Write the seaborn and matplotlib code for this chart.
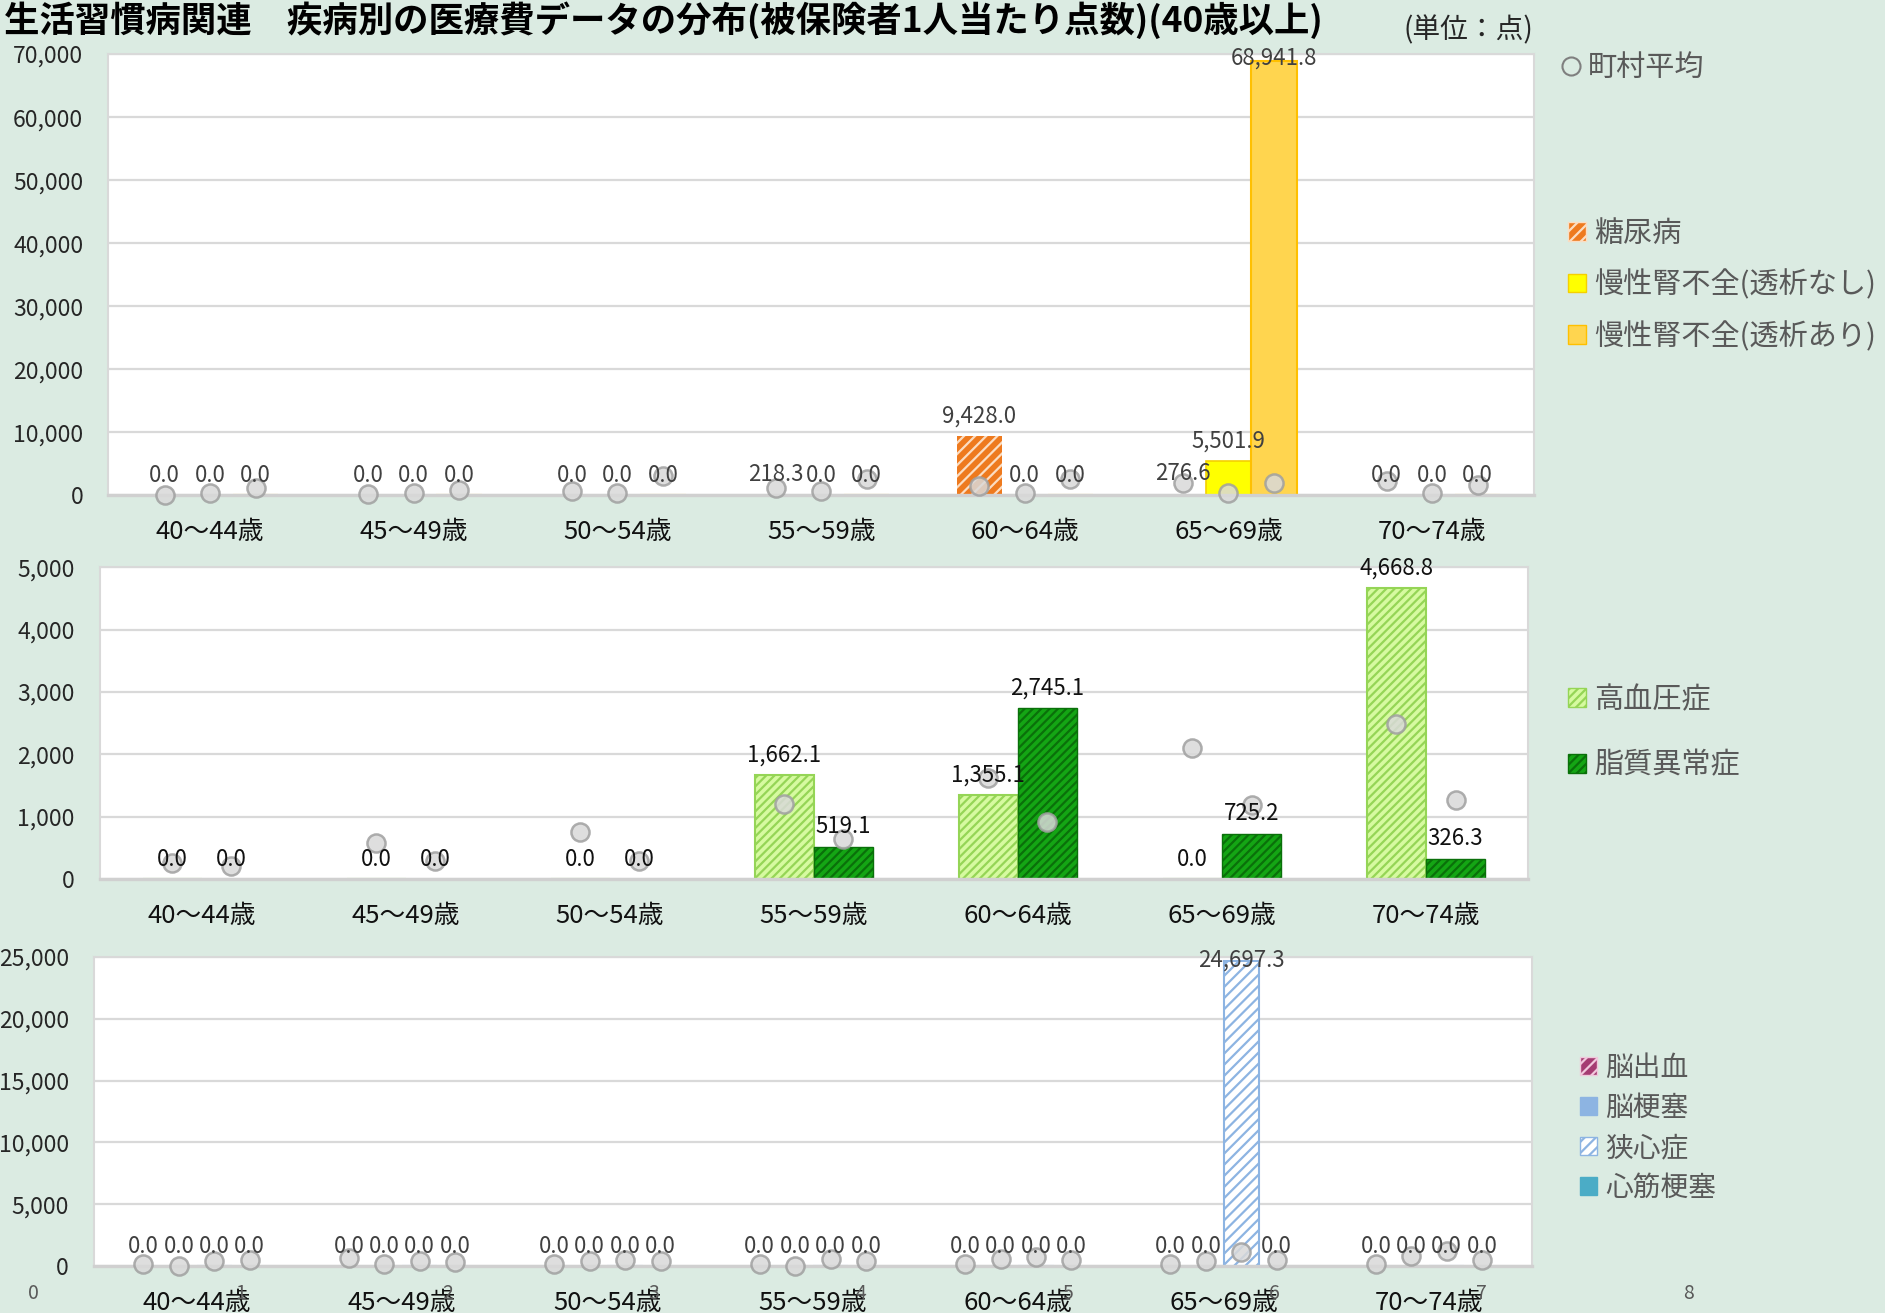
import numpy as np
import pandas as pd
import matplotlib
matplotlib.use("Agg")
import matplotlib.pyplot as plt
from matplotlib.lines import Line2D
from matplotlib.patches import Patch
from matplotlib.ticker import FuncFormatter, MultipleLocator
import seaborn as sns

# --- data ---
ages = ['40～44歳', '45～49歳', '50～54歳', '55～59歳', '60～64歳', '65～69歳', '70～74歳']

# upper panel
top_names = ['糖尿病', '慢性腎不全(透析なし)', '慢性腎不全(透析あり)']
dm = [0.0, 0.0, 0.0, 218.3, 9428.0, 276.6, 0.0]
ckd_no_dialysis = [0.0, 0.0, 0.0, 0.0, 0.0, 5501.9, 0.0]
ckd_dialysis = [0.0, 0.0, 0.0, 0.0, 0.0, 68941.8, 0.0]
dm_avg = [0, 200, 600, 1200, 1400, 2000, 2200]
ckd_no_dialysis_avg = [400, 400, 400, 600, 300, 400, 400]
ckd_dialysis_avg = [1200, 900, 3100, 2600, 2600, 2000, 1600]

# middle panel
mid_names = ['高血圧症', '脂質異常症']
hypertension = [0.0, 0.0, 0.0, 1662.1, 1355.1, 0.0, 4668.8]
dyslipidemia = [0.0, 0.0, 0.0, 519.1, 2745.1, 725.2, 326.3]
hypertension_avg = [250, 580, 750, 1200, 1620, 2100, 2490]
dyslipidemia_avg = [210, 290, 290, 640, 910, 1180, 1270]

# lower panel
low_names = ['脳出血', '脳梗塞', '狭心症', '心筋梗塞']
cerebral_hem = [0.0] * 7
cerebral_inf = [0.0] * 7
angina = [0.0, 0.0, 0.0, 0.0, 0.0, 24697.3, 0.0]
myocardial_inf = [0.0] * 7
cerebral_hem_avg = [200, 650, 150, 200, 150, 200, 150]
cerebral_inf_avg = [0, 200, 400, 0, 600, 400, 800]
angina_avg = [400, 400, 450, 550, 750, 1150, 1200]
myocardial_inf_avg = [450, 300, 400, 400, 450, 450, 450]

BG = '#DBEBE2'
GRID = '#D9D9D9'

sns.set_style("white")
plt.rcParams['font.family'] = ['Noto Sans CJK JP', 'DejaVu Sans']
plt.rcParams['hatch.linewidth'] = 1.6

fig = plt.figure(figsize=(18.85, 13.13), dpi=100, facecolor=BG)


def long_frame(names, series):
    rows = []
    for name, vals in zip(names, series):
        for age, v in zip(ages, vals):
            rows.append({'age': age, 'disease': name, 'value': v})
    return pd.DataFrame(rows)


def style_axes(ax, ymax, step):
    ax.set_facecolor('white')
    ax.set_ylim(0, ymax)
    ax.yaxis.set_major_locator(MultipleLocator(step))
    ax.yaxis.set_major_formatter(FuncFormatter(lambda v, p: f"{v:,.0f}"))
    ax.yaxis.grid(True, color=GRID, lw=1.6)
    ax.set_axisbelow(True)
    for s in ax.spines.values():
        s.set_color(GRID)
        s.set_linewidth(1.5)
    ax.spines['bottom'].set_linewidth(2.4)
    ax.spines['bottom'].set_color('#D0D0D0')
    ax.set_xlabel('')
    ax.set_ylabel('')
    ax.tick_params(axis='y', length=0, pad=18, labelsize=16.5, labelcolor='#262626')
    ax.tick_params(axis='x', which='major', length=0, pad=17, labelsize=18.5, labelcolor='#111111')
    ax.set_xticks(np.arange(-0.5, 7, 1), minor=True)
    ax.tick_params(axis='x', which='minor', length=8, width=2, color='#D0D0D0')


def draw_panel(ax, names, series, avgs, styles, width, ymax, step, label_color):
    df = long_frame(names, series)
    sns.barplot(data=df, x='age', y='value', hue='disease', order=ages, hue_order=names,
                width=width, errorbar=None, saturation=1, legend=False, ax=ax,
                palette=[st['fc'] for st in styles])
    style_axes(ax, ymax, step)
    for container, vals, avg, st in zip(ax.containers, series, avgs, styles):
        centers = []
        for bar, v in zip(container, vals):
            bar.set_facecolor(st['fc'])
            bar.set_edgecolor(st['ec'])
            bar.set_linewidth(st.get('lw', 1.2))
            bar.set_hatch(st.get('hatch', None))
            x = bar.get_x() + bar.get_width() / 2
            centers.append(x)
            h = bar.get_height()
            txt = f"{v:,.1f}"
            if h > 0.95 * ymax:
                ax.annotate(txt, (x, ymax * 0.99), ha='center', va='center',
                            fontsize=16, color=label_color, zorder=6)
            else:
                ax.annotate(txt, (x, h), xytext=(0, 6), textcoords='offset points',
                            ha='center', va='bottom', fontsize=16, color=label_color, zorder=6)
        ax.scatter(centers, avg, s=170, c='#D9D9D9', edgecolors='#A0A0A0',
                   linewidths=1.8, alpha=0.85, zorder=5, clip_on=False)
    # scatter re-autoscales, put the category limits back
    ax.set_xlim(-0.5, len(ages) - 0.5)
    ax.set_ylim(0, ymax)


top_styles = [
    dict(fc='#EE7A1E', ec='#FBDDC2', hatch='///', lw=0),
    dict(fc='#FFFF00', ec='#F5D000', lw=1.2),
    dict(fc='#FFD54F', ec='#FFC000', lw=1.5),
]
mid_styles = [
    dict(fc='#D6FAA0', ec='#95D556', hatch='////', lw=1.5),
    dict(fc='#14A514', ec='#0A700A', hatch='////', lw=1.0),
]
low_styles = [
    dict(fc='#A53C72', ec='#F0C8DC', hatch='///', lw=0),
    dict(fc='#8DB4E2', ec='#8DB4E2', lw=1.0),
    dict(fc='#FFFFFF', ec='#8DB4E2', hatch='///', lw=1.5),
    dict(fc='#4BACC6', ec='#4BACC6', lw=1.0),
]

ax1 = fig.add_axes([0.0574, 0.6228, 0.7564, 0.3360])
draw_panel(ax1, top_names, [dm, ckd_no_dialysis, ckd_dialysis],
           [dm_avg, ckd_no_dialysis_avg, ckd_dialysis_avg], top_styles, 0.67, 70000, 10000, '#404040')

ax2 = fig.add_axes([0.0529, 0.3306, 0.7577, 0.2372])
draw_panel(ax2, mid_names, [hypertension, dyslipidemia],
           [hypertension_avg, dyslipidemia_avg], mid_styles, 0.58, 5000, 1000, '#111111')

ax3 = fig.add_axes([0.0498, 0.0358, 0.7628, 0.2353])
draw_panel(ax3, low_names, [cerebral_hem, cerebral_inf, angina, myocardial_inf],
           [cerebral_hem_avg, cerebral_inf_avg, angina_avg, myocardial_inf_avg],
           low_styles, 0.69, 25000, 5000, '#404040')

# secondary 0..8 scale under the bottom panel
ax4 = fig.add_axes([0.0179, 0.0358, 0.8776, 0.001])
ax4.patch.set_alpha(0)
ax4.set_xlim(0, 8)
ax4.set_xticks(range(9))
ax4.set_yticks([])
for s in ax4.spines.values():
    s.set_visible(False)
ax4.tick_params(axis='x', length=0, pad=12, labelsize=14, labelcolor='#595959')

# title and unit
fig.text(0.002, 0.999, '生活習慣病関連　疾病別の医療費データの分布(被保険者1人当たり点数)(40歳以上)',
         ha='left', va='top', fontsize=25.5, fontweight='bold', color='#000000')
fig.text(0.8133, 1 - 30 / 1313, '(単位：点)', ha='right', va='center', fontsize=20, color='#262626')

# legends
leg_kw = dict(loc='upper left', frameon=False, borderpad=0, borderaxespad=0,
              handletextpad=0.3, labelcolor='#595959', bbox_transform=fig.transFigure)

avg_handle = Line2D([], [], marker='o', ls='', mfc='none', mec='#7F7F7F', ms=13, mew=1.5)
fig.legend(handles=[avg_handle], labels=['町村平均'], bbox_to_anchor=(1562 / 1885, 1 - 53 / 1313),
           fontsize=21, handlelength=0.6, **leg_kw)


def patch_handles(styles):
    return [Patch(facecolor=st['fc'], edgecolor=st['ec'], hatch=st.get('hatch', None), lw=1)
            for st in styles]


fig.legend(handles=patch_handles(top_styles), labels=top_names,
           bbox_to_anchor=(1568 / 1885, 1 - 219 / 1313), fontsize=21,
           handlelength=0.6, handleheight=0.6, labelspacing=0.72, **leg_kw)
fig.legend(handles=patch_handles(mid_styles), labels=mid_names,
           bbox_to_anchor=(1568 / 1885, 1 - 685 / 1313), fontsize=21,
           handlelength=0.6, handleheight=0.6, labelspacing=1.22, **leg_kw)
fig.legend(handles=patch_handles(low_styles), labels=low_names,
           bbox_to_anchor=(1580 / 1885, 1 - 1053 / 1313), fontsize=20,
           handlelength=0.6, handleheight=0.6, labelspacing=0.36, **leg_kw)

fig.savefig('out.png', dpi=100, facecolor=BG)
